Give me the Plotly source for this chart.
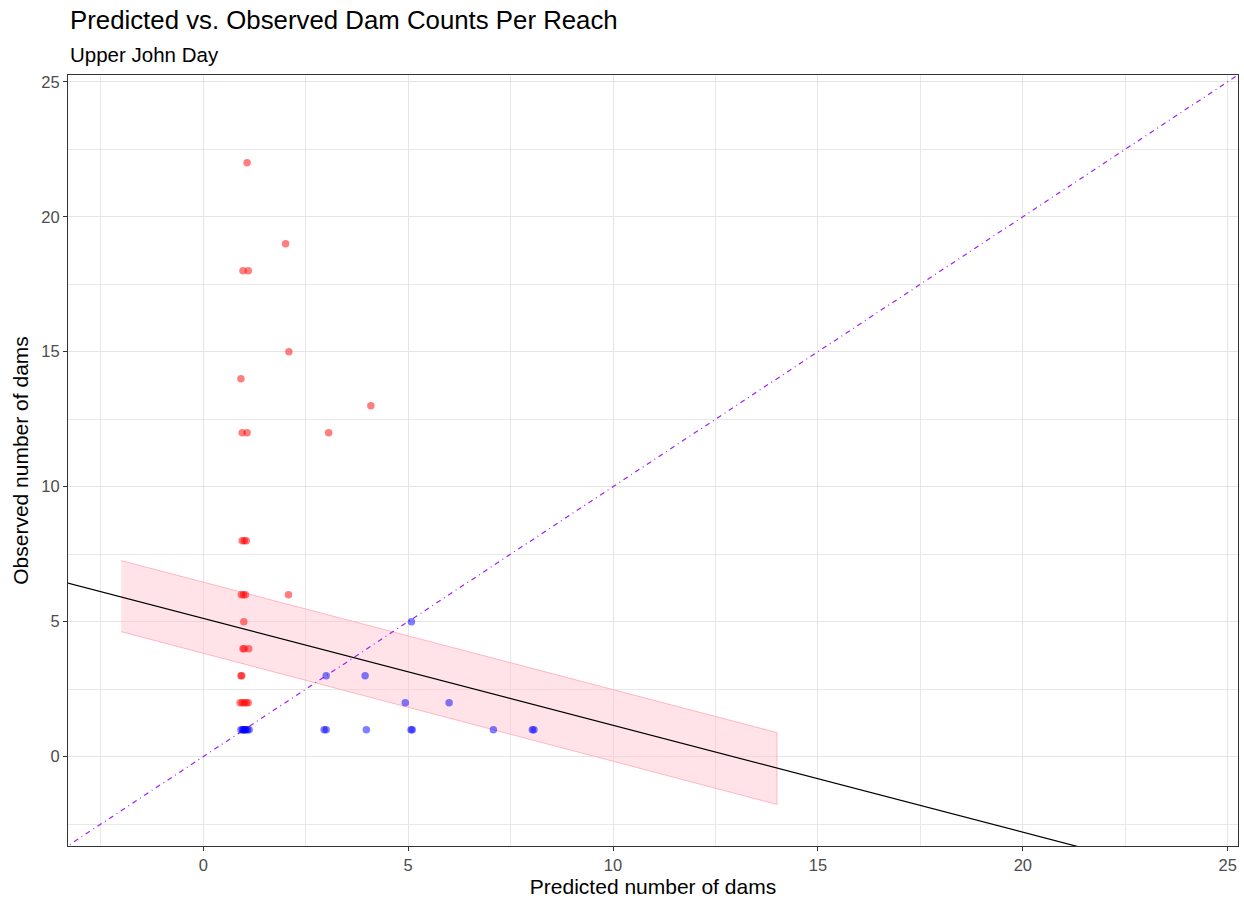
import plotly.graph_objects as go

# ---------------- data ----------------
red_x = [1.07, 2.01, 0.97, 1.10, 2.09, 0.92, 4.09, 0.95, 1.07, 3.06,
         0.95, 1.00, 1.05, 0.93, 0.98, 1.03, 2.08, 0.99, 0.97, 1.00, 1.11,
         0.92, 0.94, 0.90, 0.95, 1.00, 1.05, 1.10]
red_y = [22, 19, 18, 18, 15, 14, 13, 12, 12, 12,
         8, 8, 8, 6, 6, 6, 6, 5, 4, 4, 4,
         3, 3, 2, 2, 2, 2, 2]

blue_x = [5.08, 3.00, 3.95, 4.93, 6.00,
          0.92, 0.96, 1.00, 1.04, 1.08, 1.12, 0.98, 1.02, 2.95, 3.00, 3.98,
          5.07, 5.10, 7.08, 8.03, 8.07]
blue_y = [5, 3, 3, 2, 2,
          1, 1, 1, 1, 1, 1, 1, 1, 1, 1, 1,
          1, 1, 1, 1, 1]

fit_intercept = 5.12
fit_slope = -0.396
line_x = [-10, 40]

ribbon_x = [-2, 14]
ribbon_lo = [4.63, -1.77]
ribbon_hi = [7.26, 0.89]

ref_x = [-10, 40]

x_range = [-3.30, 25.25]
y_range = [-3.31, 25.25]
ticks = [0, 5, 10, 15, 20, 25]

title = "Predicted vs. Observed Dam Counts Per Reach"
subtitle = "Upper John Day"
x_title = "Predicted number of dams"
y_title = "Observed number of dams"

FONT = "Liberation Sans, Arial, sans-serif"

# ---------------- figure ----------------
fig = go.Figure()

# ribbon
fig.add_trace(go.Scatter(
    x=ribbon_x + ribbon_x[::-1], y=ribbon_hi + ribbon_lo[::-1],
    fill="toself", fillcolor="rgba(255,192,203,0.45)",
    line=dict(color="rgba(255,182,193,1)", width=1),
    mode="lines", hoverinfo="skip", showlegend=False))

# fitted line
fig.add_trace(go.Scatter(
    x=line_x, y=[fit_intercept + fit_slope * v for v in line_x],
    mode="lines", line=dict(color="black", width=1.2), showlegend=False))

# 1:1 reference line
fig.add_trace(go.Scatter(
    x=ref_x, y=ref_x, mode="lines",
    line=dict(color="#A020F0", width=1.2, dash="5px,4px,1px,4px"),
    showlegend=False))

# points
fig.add_trace(go.Scatter(
    x=red_x, y=red_y, mode="markers",
    marker=dict(color="rgba(255,0,0,0.5)", size=7.5, line=dict(width=0)),
    showlegend=False))
fig.add_trace(go.Scatter(
    x=blue_x, y=blue_y, mode="markers",
    marker=dict(color="rgba(0,0,255,0.5)", size=7.5, line=dict(width=0)),
    showlegend=False))

axis_common = dict(
    showgrid=True, gridcolor="#E5E5E5", gridwidth=1.4,
    minor=dict(dtick=2.5, showgrid=True, gridcolor="#E8E8E8", gridwidth=1.1, ticks=""),
    zeroline=False, showline=True, mirror=True,
    linecolor="#333333", linewidth=1,
    ticks="outside", ticklen=4, tickcolor="#333333", tickwidth=1,
    tickvals=ticks, ticktext=[str(t) for t in ticks],
    tickfont=dict(family=FONT, size=16.5, color="#4D4D4D"),
)

fig.update_xaxes(range=x_range, title=dict(text=x_title, standoff=6,
                 font=dict(family=FONT, size=21, color="black")), **axis_common)
fig.update_yaxes(range=y_range, title=dict(text=y_title, standoff=6,
                 font=dict(family=FONT, size=21, color="black")), **axis_common)

fig.update_layout(
    width=1244, height=901,
    paper_bgcolor="white", plot_bgcolor="white",
    margin=dict(l=67.5, r=6, t=75, b=55, autoexpand=False),
    font=dict(family=FONT),
    showlegend=False,
    annotations=[
        dict(text=title, xref="paper", yref="paper", x=0, y=1,
             xanchor="left", yanchor="middle", yshift=55, showarrow=False,
             font=dict(family=FONT, size=25.8, color="black")),
        dict(text=subtitle, xref="paper", yref="paper", x=0, y=1,
             xanchor="left", yanchor="middle", yshift=21, showarrow=False,
             font=dict(family=FONT, size=20.5, color="black")),
    ],
)

fig.write_html("out.html")
